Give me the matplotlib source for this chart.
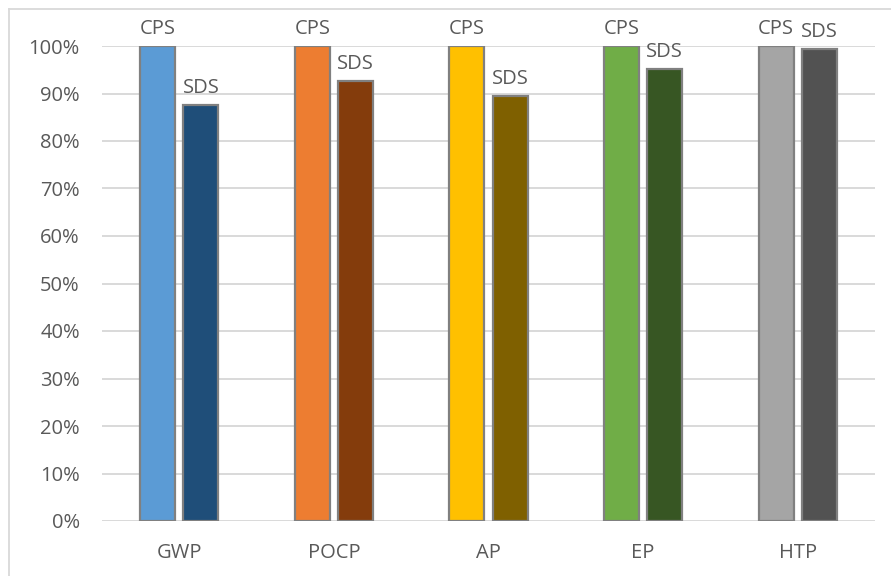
import numpy as np
import matplotlib
matplotlib.use("Agg")
import matplotlib.pyplot as plt
from matplotlib.lines import Line2D

plt.rcParams['font.family'] = ['Open Sans', 'DejaVu Sans']

# impact categories and relative results (CPS = 100%)
categories = ["GWP", "POCP", "AP", "EP", "HTP"]
cps = [1.00, 1.00, 1.00, 1.00, 1.00]
sds = [0.876, 0.926, 0.895, 0.951, 0.994]

cps_colors = ["#5B9BD5", "#ED7D31", "#FFC000", "#70AD47", "#A5A5A5"]
sds_colors = ["#1F4E79", "#843C0C", "#7F6000", "#375623", "#525252"]

txt = "#595959"
grid = "#D9D9D9"
fs = 14.5

fig = plt.figure(figsize=(8.91, 5.76), dpi=100)
ax = fig.add_axes([102/891, 1 - 521/576, (875 - 102)/891, (521 - 46)/576])

x = np.arange(len(categories))
w = 0.227
off = 0.14

b1 = ax.bar(x - off, cps, w, color=cps_colors, edgecolor="#808080", linewidth=1.6, zorder=3)
b2 = ax.bar(x + off, sds, w, color=sds_colors, edgecolor="#808080", linewidth=1.6, zorder=3)

for bars, name in ((b1, "CPS"), (b2, "SDS")):
    for b in bars:
        ax.annotate(name, (b.get_x() + b.get_width()/2, b.get_height()),
                    xytext=(0, 5), textcoords="offset points",
                    ha="center", va="bottom", fontsize=fs, color=txt,
                    annotation_clip=False)

ax.set_xlim(-0.5, len(categories) - 0.5)
ax.set_ylim(0, 1.0)
ax.set_yticks(np.arange(0, 1.01, 0.1))
ax.set_yticklabels([f"{int(round(v*100))}%" for v in np.arange(0, 1.01, 0.1)])
ax.set_xticks(x)
ax.set_xticklabels(categories)

ax.yaxis.grid(True, color=grid, linewidth=1.4, zorder=0)
ax.set_axisbelow(True)
for s in ax.spines.values():
    s.set_visible(False)
ax.tick_params(axis="both", length=0, colors=txt, labelsize=fs)
ax.tick_params(axis="y", pad=16)
ax.tick_params(axis="x", pad=16)

# outer chart frame (top and left edges)
fig.add_artist(Line2D([9/891, 1.0], [1 - 9/576, 1 - 9/576], color=grid, linewidth=1.3))
fig.add_artist(Line2D([9/891, 9/891], [0, 1 - 9/576], color=grid, linewidth=1.3))

fig.savefig("out.png", dpi=100)
